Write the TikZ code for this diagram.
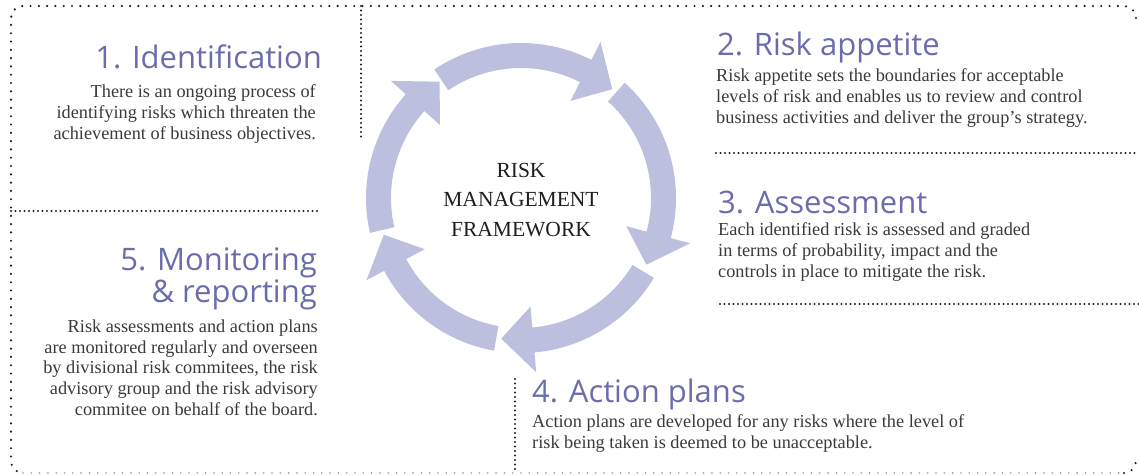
\documentclass[tikz,border=0pt]{standalone}
\usepackage{fontspec}
\setmainfont{Liberation Serif}
\newfontfamily\headfont{Open Sans}
\definecolor{arrowfill}{RGB}{189,191,223}
\definecolor{headcol}{RGB}{106,109,172}
\definecolor{bodycol}{RGB}{58,58,58}
\definecolor{centcol}{RGB}{30,30,30}
\definecolor{dotcol}{RGB}{30,30,30}
\definecolor{lightdot}{RGB}{150,150,150}
\begin{document}
\begin{tikzpicture}[x=1pt,y=1pt,
  heading/.style={font=\headfont\fontsize{31}{32}\selectfont, text=headcol, inner sep=0pt},
  body/.style={font=\fontsize{18.3}{20.6}\selectfont, text=bodycol, inner sep=0pt},
  centre/.style={font=\fontsize{21.5}{29.5}\selectfont, text=centcol, inner sep=0pt, align=center},
  borderdots/.style={draw=dotcol, line width=2.4pt, line cap=round, dash pattern=on 0pt off 8.3pt},
  borderlight/.style={draw=lightdot, line width=1.8pt, line cap=round, dash pattern=on 0pt off 8.3pt},
  divdots/.style={draw=dotcol, line width=2.1pt, line cap=round, dash pattern=on 0pt off 4.5pt},
  cyclearrow/.style={fill=arrowfill}
]
\useasboundingbox (0,0) rectangle (1139,-475);

% outer border
\draw[borderdots] (1136,-18) arc[start angle=0,end angle=90,radius=12] -- (23,-6)
  arc[start angle=90,end angle=180,radius=12] -- (11,-461)
  arc[start angle=180,end angle=270,radius=12];
\draw[borderlight] (23,-473) -- (1124,-473);
\draw[borderdots] (1124,-473) arc[start angle=270,end angle=360,radius=12];

% dividers
\draw[divdots] (361,-6) -- (361,-138);
\draw[divdots] (11,-211) -- (318,-211);
\draw[divdots] (716,-153) -- (1139,-153);
\draw[divdots] (720,-304) -- (1139,-304);
\draw[divdots] (515,-379) -- (515,-473);

% cycle arrows
\begin{scope}[shift={(521pt,-198pt)}]
\foreach \t/\p in {124/50, 48/-28, -31/-98, -100/-165, -167/-235}{
  \pgfmathsetmacro{\b}{\p+13}
  \fill[cyclearrow] (\t:155pt) arc[start angle=\t,end angle=\b,radius=155pt]
    -- (\b:175pt) -- (\p:142pt) -- (\b:109pt) -- (\b:130pt)
    arc[start angle=\b,end angle=\t,radius=130pt] -- cycle;
}
\end{scope}

% centre text (base anchor = last line)
\node[centre, anchor=base] (ctr) at (521,-236) {RISK\\MANAGEMENT\\FRAMEWORK};

% 1
\node[heading, anchor=base east] (h1) at (322,-68) {1. Identification};
\node[body, align=right, anchor=base east] (b1) at (316,-139)
  {There is an ongoing process of\\identifying risks which threaten the\\achievement of business objectives.};

% 2
\node[heading, anchor=base west] (h2) at (717,-55) {2. Risk appetite};
\node[body, align=left, anchor=base west] (b2) at (716,-123)
  {Risk appetite sets the boundaries for acceptable\\levels of risk and enables us to review and control\\business activities and deliver the group’s strategy.};

% 3
\node[heading, anchor=base west] (h3) at (718,-213) {3. Assessment};
\node[body, align=left, anchor=base west] (b3) at (718,-277)
  {Each identified risk is assessed and graded\\in terms of probability, impact and the\\controls in place to mitigate the risk.};

% 4
\node[heading, anchor=base west] (h4) at (532,-402) {4. Action plans};
\node[body, align=left, anchor=base west] (b4) at (532,-448)
  {Action plans are developed for any risks where the level of\\risk being taken is deemed to be unacceptable.};

% 5
\node[heading, align=right, anchor=base east] (h5) at (317,-302) {5. Monitoring\\\& reporting};
\node[body, align=right, anchor=base east] (b5) at (318,-415)
  {Risk assessments and action plans\\are monitored regularly and overseen\\by divisional risk commitees, the risk\\advisory group and the risk advisory\\commitee on behalf of the board.};
\end{tikzpicture}
\end{document}
